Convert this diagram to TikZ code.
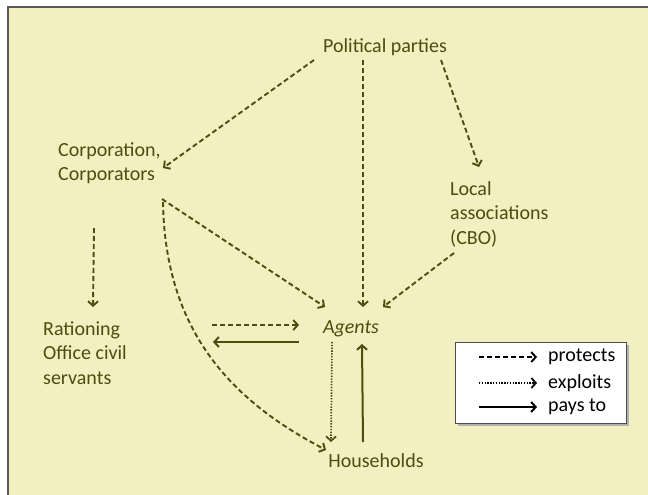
\documentclass[tikz,border=0pt]{standalone}
\usepackage{fontspec}
\setmainfont{Carlito}
\usetikzlibrary{arrows.meta,calc}
\definecolor{ink}{RGB}{80,75,14}
\definecolor{paper}{RGB}{242,240,193}
\tikzset{
  lbl/.style={inner sep=0pt, text=ink, font=\fontsize{20}{24.5}\selectfont, align=left},
  key/.style={inner sep=0pt, text=black, font=\fontsize{20}{24.5}\selectfont},
  tip/.style={-{Straight Barb[length=4.5pt,width=10pt]}},
  protects/.style={tip, line width=1.9pt, dash pattern=on 5pt off 3pt},
  exploits/.style={tip, line width=1.7pt, dash pattern=on 1.4pt off 1.4pt},
  paysto/.style={tip, line width=2pt}
}
\begin{document}
\begin{tikzpicture}[x=1pt,y=-1pt]
  \useasboundingbox (0,0) rectangle (648,495);
  \fill[black!25] (10,9) rectangle (670,520);
  \draw[fill=paper, draw=black!65, line width=1.3pt] (8,7) rectangle (670,520);
  \node[lbl] (P) at (385,47) {Political parties};
  \node[lbl, anchor=west] (C) at (58,163) {Corporation,\\Corporators};
  \node[lbl, anchor=west] (L) at (450,214) {Local\\associations\\(CBO)};
  \node[lbl, anchor=west] (R) at (43,353) {Rationing\\Office civil\\servants};
  \node[lbl, font=\fontsize{20}{24.5}\selectfont\itshape] (A) at (351,329) {Agents};
  \node[lbl] (H) at (376,461) {Households};
  \draw[protects, ink] ($(P)+(-71,13)$) -- ($(C.west)+(105,5)$);
  \draw[protects, ink] ($(P)+(-22,13)$) -- ($(A)+(12,-22)$);
  \draw[protects, ink] ($(P)+(56,13)$) -- ($(L.west)+(29,-47)$);
  \draw[protects, ink] ($(C.west)+(36,65)$) -- ($(R.west)+(50,-46)$);
  \draw[protects, ink] ($(C.west)+(104,36)$) -- ($(A)+(-26,-22)$);
  \draw[protects, ink] ($(C.west)+(105,39)$) .. controls ($(C.west)+(107,167)$) and ($(H)+(-146,-61)$) .. ($(H)+(-50,-11)$);
  \draw[protects, ink] ($(L.west)+(4,39)$) -- ($(A)+(32,-22)$);
  \draw[protects, ink] ($(R.west)+(169,-28)$) -- ($(A)+(-52,-4)$);
  \draw[paysto, ink] ($(A)+(-52,13)$) -- ($(R.west)+(170,-11)$);
  \draw[exploits, ink] ($(A)+(-19,13)$) -- ($(H)+(-45,-19)$);
  \draw[paysto, ink] ($(H)+(-13,-19)$) -- ($(A)+(11,15)$);
  % legend
  \fill[black!30] (458,345) rectangle (629,426);
  \draw[fill=white, draw=black!70, line width=0.8pt] (455,342) rectangle (626,423);
  \node[key, anchor=west] (LP) at (548,357) {protects};
  \node[key, anchor=west] (LE) at (548,383) {exploits};
  \node[key, anchor=west] (LT) at (548,407) {pays to};
  \coordinate (lp0) at (479,357);
  \coordinate (le0) at (479,383);
  \coordinate (lt0) at (479,407);
  \draw[protects] (lp0) -- ($(LP.west)+(-11,0)$);
  \draw[exploits] (le0) -- ($(LE.west)+(-11,0)$);
  \draw[paysto] (lt0) -- ($(LT.west)+(-11,0)$);
\end{tikzpicture}
\end{document}
